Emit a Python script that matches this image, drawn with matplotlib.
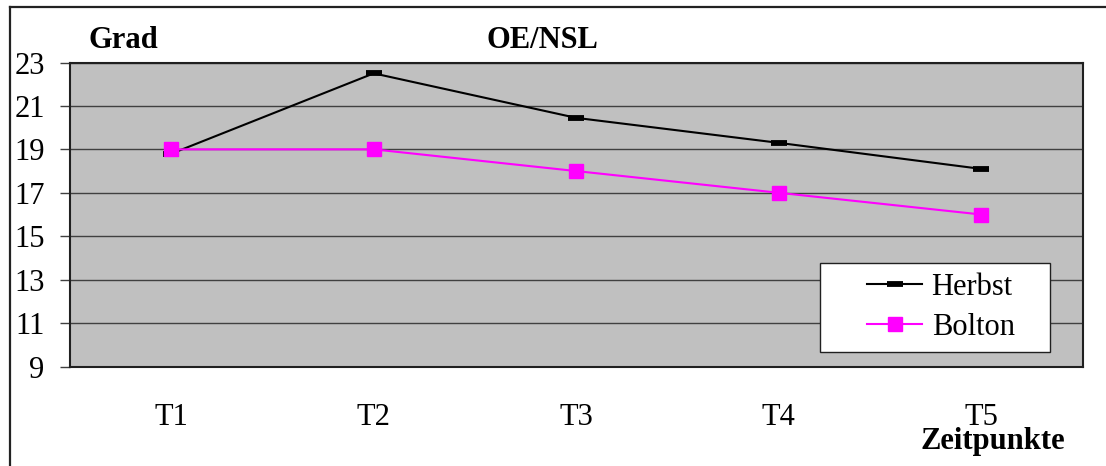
import matplotlib
matplotlib.use("Agg")
import matplotlib.pyplot as plt
from matplotlib.patches import Rectangle
from matplotlib.lines import Line2D

# Daten
zeitpunkte = ["T1", "T2", "T3", "T4", "T5"]
herbst = [18.8, 22.5, 20.45, 19.3, 18.1]
bolton = [19.0, 19.0, 18.0, 17.0, 16.0]
y_ticks = [9, 11, 13, 15, 17, 19, 21, 23]

plt.rcParams['font.family'] = ['Liberation Serif', 'DejaVu Serif']
FS = 22
W, H = 1106, 466

fig = plt.figure(figsize=(W / 100, H / 100), dpi=100)
fig.patch.set_facecolor('white')

# Rahmen (nur oben und links sichtbar)
fig.add_artist(Line2D([10 / W, 1.0], [1 - 6.5 / H, 1 - 6.5 / H], transform=fig.transFigure,
                      color='#222222', lw=1.6))
fig.add_artist(Line2D([10 / W, 10 / W], [0.0, 1 - 6.5 / H], transform=fig.transFigure,
                      color='#222222', lw=1.6))

ax = fig.add_axes([70 / W, 1 - 366.5 / H, (1082.5 - 70) / W, (366.5 - 62.5) / H])
ax.set_facecolor('#C0C0C0')

x = list(range(len(zeitpunkte)))
ax.plot(x, herbst, color='black', lw=1.5, marker='_', markersize=11.5, markeredgewidth=4.2,
        label='Herbst', zorder=3)
ax.plot(x, bolton, color='#FF00FF', lw=1.5, marker='s', markersize=9.5,
        markerfacecolor='#FF00FF', markeredgecolor='#FF00FF', label='Bolton', zorder=4)

ax.set_xlim(-0.5, len(zeitpunkte) - 0.5)
ax.set_ylim(9, 23)
ax.set_yticks(y_ticks)
ax.set_xticks(x)
ax.set_xticklabels(zeitpunkte)
ax.tick_params(axis='y', labelsize=FS, length=7.2, width=1, color='#404040', pad=11)
ax.tick_params(axis='x', labelsize=FS, length=0, pad=26)
ax.yaxis.grid(True, color='#404040', lw=1)
ax.set_axisbelow(True)
for s in ax.spines.values():
    s.set_color('#202020')
    s.set_linewidth(1.5)

# Beschriftungen
fig.text(88 / W, 1 - 40 / H, 'Grad', fontsize=FS, fontweight='bold', ha='left', va='center')
fig.text(542 / W, 1 - 40 / H, 'OE/NSL', fontsize=FS, fontweight='bold', ha='center', va='center')
fig.text(993 / W, 1 - 449 / H, 'Zeitpunkte', fontsize=FS, fontweight='bold', ha='center', va='baseline')

# Legende mit eigenem Kasten
ax.add_patch(Rectangle((820 / W, 1 - 352 / H), 230 / W, 89 / H, transform=fig.transFigure,
                       facecolor='white', edgecolor='#202020', lw=1, zorder=5))
leg = ax.legend(loc='center', bbox_to_anchor=(941 / W, 1 - 307.5 / H), bbox_transform=fig.transFigure,
                frameon=False, fontsize=FS, handlelength=1.8, handletextpad=0.3,
                labelspacing=0.35, borderpad=0)
leg.set_zorder(6)

fig.savefig('out.png', dpi=100)
